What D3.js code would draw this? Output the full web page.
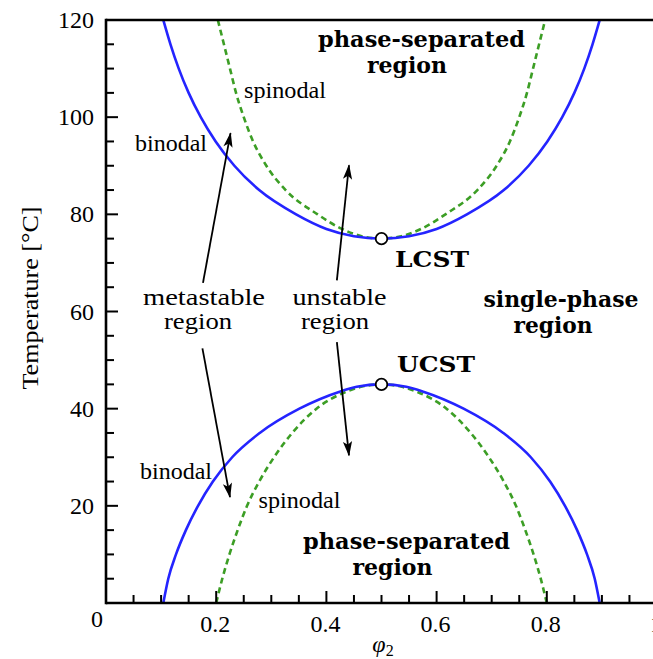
<!DOCTYPE html>
<html><head><meta charset="utf-8">
<script src="https://cdn.jsdelivr.net/npm/d3@7"></script>
<style>
html,body{margin:0;padding:0;background:#fff;}
svg{display:block;}
</style></head>
<body>
<svg id="chart" width="653" height="659"></svg>
<script>
// ---- data ----
const upperT        = [120, 115, 110, 105, 100, 95, 90, 85, 80, 77, 75.5, 75];
const upperBinodalL = [0.104, 0.117, 0.132, 0.150, 0.172, 0.199, 0.233, 0.278, 0.345, 0.400, 0.450, 0.500];
const upperBinodalR = [0.896, 0.883, 0.868, 0.850, 0.828, 0.801, 0.767, 0.722, 0.655, 0.600, 0.550, 0.500];
const upperSpinodalL= [0.203, 0.214, 0.225, 0.236, 0.250, 0.267, 0.291, 0.326, 0.384, 0.428, 0.464, 0.500];
const upperSpinodalR= [0.797, 0.786, 0.775, 0.764, 0.750, 0.733, 0.709, 0.674, 0.616, 0.572, 0.536, 0.500];

const lowerT        = [0, 5, 10, 15, 20, 25, 30, 35, 40, 43.5, 44.5, 45];
const lowerBinodalL = [0.104, 0.113, 0.127, 0.145, 0.167, 0.194, 0.229, 0.279, 0.351, 0.424, 0.455, 0.500];
const lowerBinodalR = [0.896, 0.887, 0.873, 0.855, 0.833, 0.806, 0.771, 0.721, 0.649, 0.576, 0.545, 0.500];
const lowerSpinodalL= [0.200, 0.211, 0.224, 0.239, 0.256, 0.278, 0.305, 0.338, 0.382, 0.436, 0.463, 0.500];
const lowerSpinodalR= [0.800, 0.789, 0.776, 0.761, 0.744, 0.722, 0.695, 0.662, 0.618, 0.564, 0.537, 0.500];

const criticalPoints = [{name:"LCST", phi:0.5, T:75}, {name:"UCST", phi:0.5, T:45}];

const xMajorTicks = [0, 0.2, 0.4, 0.6, 0.8, 1];
const xTickLabels = ["0", "0.2", "0.4", "0.6", "0.8", "1"];
const xMinorTicks = d3.range(0, 21).map(i => i / 20);
const yMajorTicks = [0, 20, 40, 60, 80, 100, 120];
const yTickLabels = ["", "20", "40", "60", "80", "100", "120"];
const yMinorTicks = d3.range(0, 25).map(i => i * 5);

// arrows: [phiTail, TTail, phiTip, TTip]
const arrows = [
  [0.176, 65.9, 0.226, 96.7],
  [0.419, 66.4, 0.441, 90.1],
  [0.175, 52.4, 0.225, 21.8],
  [0.419, 53.7, 0.441, 30.4]
];

// ---- drawing ----
const svg = d3.select("#chart");
const X0 = 106, X1 = 657, Y0 = 603, Y1 = 20;
const x = d3.scaleLinear().domain([0, 1]).range([X0, X1]);
const y = d3.scaleLinear().domain([0, 120]).range([Y0, Y1]);

const serif = "'Liberation Serif', 'Times New Roman', serif";
const bold = "'DejaVu Serif', serif";

const defs = svg.append("defs");
defs.append("clipPath").attr("id", "plotclip")
  .append("rect").attr("x", X0).attr("y", Y1).attr("width", X1 - X0).attr("height", Y0 - Y1);

defs.append("marker")
  .attr("id", "arrowhead").attr("viewBox", "-15 -6 17 12")
  .attr("markerWidth", 17).attr("markerHeight", 12)
  .attr("refX", 0).attr("refY", 0).attr("orient", "auto")
  .attr("markerUnits", "userSpaceOnUse")
  .append("path").attr("d", "M1,0 L-14,-4.6 L-10.5,0 L-14,4.6 Z").attr("fill", "#000");

function curvePoints(Ts, L, R) {
  const left = Ts.map((t, i) => [L[i], t]);
  const right = Ts.map((t, i) => [R[i], t]).reverse().slice(1);
  return left.concat(right);
}

const line = d3.line().x(d => x(d[0])).y(d => y(d[1])).curve(d3.curveMonotoneX);
const plot = svg.append("g").attr("clip-path", "url(#plotclip)");

const blue = "#2424ff", green = "#3c9e25";
const curves = [
  {pts: curvePoints(upperT, upperSpinodalL, upperSpinodalR), color: green, dash: "6,4"},
  {pts: curvePoints(lowerT, lowerSpinodalL, lowerSpinodalR), color: green, dash: "6,4"},
  {pts: curvePoints(upperT, upperBinodalL, upperBinodalR), color: blue, dash: null},
  {pts: curvePoints(lowerT, lowerBinodalL, lowerBinodalR), color: blue, dash: null}
];
curves.forEach(c => {
  plot.append("path").attr("d", line(c.pts)).attr("fill", "none")
    .attr("stroke", c.color).attr("stroke-width", 2.6)
    .attr("stroke-dasharray", c.dash);
});

// arrows
svg.append("g").selectAll("line").data(arrows).enter().append("line")
  .attr("x1", d => x(d[0])).attr("y1", d => y(d[1]))
  .attr("x2", d => x(d[2])).attr("y2", d => y(d[3]))
  .attr("stroke", "#000").attr("stroke-width", 1.8)
  .attr("marker-end", "url(#arrowhead)");

// critical points
svg.append("g").selectAll("circle").data(criticalPoints).enter().append("circle")
  .attr("cx", d => x(d.phi)).attr("cy", d => y(d.T)).attr("r", 5.8)
  .attr("fill", "#fff").attr("stroke", "#000").attr("stroke-width", 1.8);

// frame
const frame = svg.append("g").attr("stroke", "#000").attr("stroke-width", 2.6).attr("fill", "none");
frame.append("line").attr("x1", X0).attr("x2", X1 + 2).attr("y1", Y0).attr("y2", Y0);
frame.append("line").attr("x1", X0).attr("x2", X1 + 2).attr("y1", Y1).attr("y2", Y1);
frame.append("line").attr("x1", X0).attr("x2", X0).attr("y1", Y1 - 1.3).attr("y2", Y0 + 1.3);
frame.append("line").attr("x1", X1).attr("x2", X1).attr("y1", Y1).attr("y2", Y0);

// ticks (inward)
const ticks = svg.append("g").attr("stroke", "#000").attr("stroke-width", 2);
xMinorTicks.forEach(v => {
  const major = xMajorTicks.some(m => Math.abs(m - v) < 1e-9);
  ticks.append("line").attr("x1", x(v)).attr("x2", x(v)).attr("y1", Y0).attr("y2", Y0 - (major ? 12 : 8));
});
yMinorTicks.forEach(v => {
  const major = yMajorTicks.includes(v);
  ticks.append("line").attr("x1", X0).attr("x2", X0 + (major ? 12 : 8)).attr("y1", y(v)).attr("y2", y(v));
});

// tick labels
const tl = svg.append("g").attr("font-family", serif).attr("font-size", 24).attr("fill", "#000");
xMajorTicks.forEach((v, i) => {
  const first = i === 0;
  tl.append("text").attr("x", first ? x(v) - 9 : x(v) - 1).attr("y", first ? 627 : 632)
    .attr("text-anchor", "middle").text(xTickLabels[i]);
});
yMajorTicks.forEach((v, i) => {
  if (!yTickLabels[i]) return;
  tl.append("text").attr("x", 94).attr("y", y(v) + 8).attr("text-anchor", "end").text(yTickLabels[i]);
});

// axis titles
svg.append("text").attr("transform", "translate(38,298) rotate(-90)")
  .attr("text-anchor", "middle").attr("font-family", serif).attr("font-size", 24)
  .attr("textLength", 183).attr("lengthAdjust", "spacingAndGlyphs")
  .text("Temperature [°C]");
const xt = svg.append("text").attr("x", 383).attr("y", 652).attr("text-anchor", "middle")
  .attr("font-family", serif).attr("font-size", 24).attr("font-style", "italic");
xt.append("tspan").text("φ");
xt.append("tspan").attr("font-size", 16).attr("font-style", "normal").attr("dy", 4).text("2");

// annotations: [text, centre x, baseline y, width]
const regular = [
  ["spinodal", 285, 98, 82],
  ["binodal", 171, 151, 72],
  ["metastable", 204, 305, 122],
  ["region", 198, 329, 68],
  ["unstable", 339.5, 305, 94],
  ["region", 335, 329, 68],
  ["binodal", 176, 479, 72],
  ["spinodal", 299.5, 508, 82]
];
const bolds = [
  ["phase-separated", 421.5, 46.5, 207],
  ["region", 407, 73, 80],
  ["LCST", 432, 267, 74],
  ["single-phase", 561, 306.5, 155],
  ["region", 553, 333, 79],
  ["UCST", 436, 372, 78],
  ["phase-separated", 406.5, 548.5, 207],
  ["region", 392.5, 575, 80]
];
svg.append("g").selectAll("text").data(regular).enter().append("text")
  .attr("x", d => d[1] - d[3] / 2).attr("y", d => d[2])
  .attr("textLength", d => d[3]).attr("lengthAdjust", "spacingAndGlyphs")
  .attr("font-family", serif).attr("font-size", 24).text(d => d[0]);
svg.append("g").selectAll("text").data(bolds).enter().append("text")
  .attr("x", d => d[1] - d[3] / 2).attr("y", d => d[2])
  .attr("textLength", d => d[3]).attr("lengthAdjust", "spacingAndGlyphs")
  .attr("font-family", bold).attr("font-weight", "bold").attr("font-size", 22.5).text(d => d[0]);
</script>
</body></html>
